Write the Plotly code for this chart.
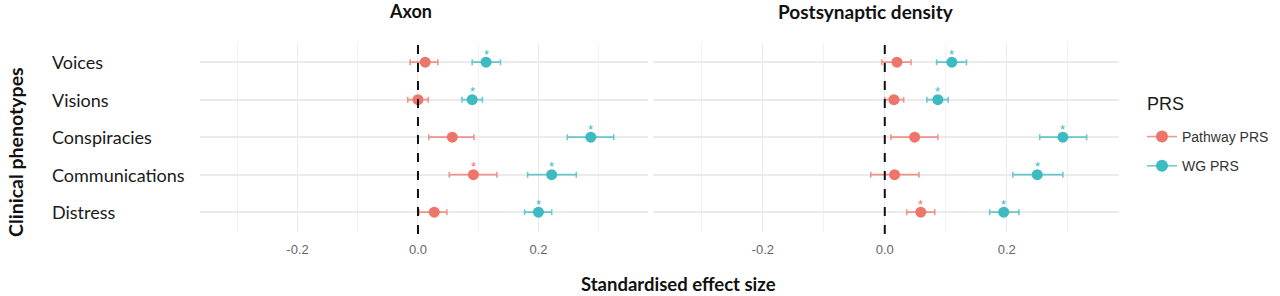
import plotly.graph_objects as go

categories = ["Voices", "Visions", "Conspiracies", "Communications", "Distress"]
panels = ["Axon", "Postsynaptic density"]
series = ["Pathway PRS", "WG PRS"]

axon_path = [0.012, 0.000, 0.057, 0.092, 0.027]
axon_path_lo = [-0.013, -0.017, 0.018, 0.052, 0.002]
axon_path_hi = [0.033, 0.017, 0.093, 0.131, 0.048]
axon_path_sig = [False, False, False, True, False]

axon_wg = [0.113, 0.090, 0.287, 0.222, 0.200]
axon_wg_lo = [0.090, 0.073, 0.248, 0.182, 0.177]
axon_wg_hi = [0.137, 0.107, 0.325, 0.263, 0.222]
axon_wg_sig = [True, True, True, True, True]

psd_path = [0.020, 0.015, 0.049, 0.016, 0.059]
psd_path_lo = [-0.005, 0.000, 0.010, -0.023, 0.036]
psd_path_hi = [0.043, 0.031, 0.087, 0.056, 0.082]
psd_path_sig = [False, False, False, False, True]

psd_wg = [0.110, 0.087, 0.292, 0.250, 0.195]
psd_wg_lo = [0.085, 0.069, 0.254, 0.210, 0.172]
psd_wg_hi = [0.134, 0.104, 0.331, 0.292, 0.220]
psd_wg_sig = [True, True, True, True, True]

colors = {"Pathway PRS": "#EE756B", "WG PRS": "#3DBAC2"}
err_colors = {"Pathway PRS": "rgba(238,117,107,0.75)", "WG PRS": "rgba(61,186,194,0.75)"}

data = {
    ("Axon", "Pathway PRS"): (axon_path, axon_path_lo, axon_path_hi, axon_path_sig),
    ("Axon", "WG PRS"): (axon_wg, axon_wg_lo, axon_wg_hi, axon_wg_sig),
    ("Postsynaptic density", "Pathway PRS"): (psd_path, psd_path_lo, psd_path_hi, psd_path_sig),
    ("Postsynaptic density", "WG PRS"): (psd_wg, psd_wg_lo, psd_wg_hi, psd_wg_sig),
}

W, H = 1280, 296
ML, MR, MT, MB = 200, 161, 43, 64
PW = W - ML - MR
PH = H - MT - MB
TXT = "Lato"


def py(pix):
    return (H - MB - pix) / PH


def px(pix):
    return (pix - ML) / PW


fig = go.Figure()
axes = {"Axon": ("x", "y"), "Postsynaptic density": ("x2", "y")}

for p in panels:
    xa, ya = axes[p]
    for s in series:
        v, lo, hi, sig = data[(p, s)]
        fig.add_trace(go.Scatter(
            x=v, y=categories, xaxis=xa, yaxis=ya,
            mode="markers",
            marker=dict(size=11, color=colors[s]),
            error_x=dict(type="data", symmetric=False,
                         array=[h - a for h, a in zip(hi, v)],
                         arrayminus=[a - l for a, l in zip(v, lo)],
                         color=err_colors[s], thickness=1.6, width=3),
            showlegend=False, cliponaxis=False, hoverinfo="skip",
        ))
        for xv, cat, g in zip(v, categories, sig):
            if g:
                fig.add_annotation(text="*", x=xv, y=cat, xref=xa, yref=ya,
                                   showarrow=False, yshift=8, xanchor="center", yanchor="middle",
                                   font=dict(family="Liberation Sans", size=13, color=colors[s]))

for s in series:
    fig.add_trace(go.Scatter(
        x=[None], y=[None], mode="lines+markers", name=s, legendgroup=s,
        marker=dict(size=12, color=colors[s]),
        line=dict(color=err_colors[s], width=1.6),
        showlegend=True,
    ))

d1 = (648 - ML) / PW
d2 = (653 - ML) / PW
grid = "#EBEBEB"
common_x = dict(
    showgrid=True, gridcolor=grid, gridwidth=1.2, zeroline=False,
    tickvals=[-0.2, 0.0, 0.2], ticktext=["-0.2", "0.0", "0.2"],
    minor=dict(tickvals=[-0.3, -0.1, 0.1, 0.3], showgrid=True, gridcolor="#F2F2F2", gridwidth=1),
    tickfont=dict(family="Liberation Sans", size=13, color="#666666"),
    ticks="", showline=False, ticklabelstandoff=8,
)
fig.update_layout(
    xaxis=dict(domain=[0, d1], range=[-0.362, 0.382], **common_x),
    xaxis2=dict(domain=[d2, 1], range=[-0.380, 0.384], **common_x),
    yaxis=dict(categoryorder="array", categoryarray=categories[::-1],
               range=[-0.53, 4.51], showgrid=True, gridcolor=grid, gridwidth=1.6,
               showticklabels=False, ticks="", zeroline=False, showline=False),
)

for p in panels:
    xa, _ = axes[p]
    fig.add_shape(type="line", xref=xa, yref="paper", x0=0, x1=0, y0=-0.01, y1=1.0,
                  line=dict(color="#111111", width=2, dash="dash"))

for c in categories:
    fig.add_annotation(text=c, x=px(50), xref="paper", y=c, yref="y",
                       xanchor="left", yanchor="middle", showarrow=False,
                       font=dict(family=TXT, size=18, color="#1A1A1A"))

fig.add_annotation(text="<b>Axon</b>", x=px(410), y=py(11),
                   xref="paper", yref="paper", xanchor="center", yanchor="middle",
                   showarrow=False, font=dict(family=TXT, size=18, color="#111111"))
fig.add_annotation(text="<b>Postsynaptic density</b>", x=px(866), y=py(11),
                   xref="paper", yref="paper", xanchor="center", yanchor="middle",
                   showarrow=False, font=dict(family=TXT, size=19, color="#111111"))
fig.add_annotation(text="<b>Standardised effect size</b>", x=px(678), y=py(284),
                   xref="paper", yref="paper", xanchor="center", yanchor="middle",
                   showarrow=False, font=dict(family=TXT, size=18.5, color="#111111"))
fig.add_annotation(text="<b>Clinical phenotypes</b>", x=px(15), y=py(152), textangle=-90,
                   xref="paper", yref="paper", xanchor="center", yanchor="middle",
                   showarrow=False, font=dict(family=TXT, size=19.5, color="#111111"))
fig.add_annotation(text="PRS", x=px(1145), y=py(104),
                   xref="paper", yref="paper", xanchor="left", yanchor="middle",
                   showarrow=False, font=dict(family="Liberation Sans", size=18, color="#1A1A1A"))

fig.update_layout(
    width=W, height=H,
    margin=dict(l=ML, r=MR, t=MT, b=MB, pad=0, autoexpand=False),
    paper_bgcolor="white", plot_bgcolor="white",
    legend=dict(xref="container", yref="container",
                x=1142 / W, xanchor="left", y=1 - 121 / H, yanchor="top",
                font=dict(family="Liberation Sans", size=14, color="#333333"),
                itemwidth=30, tracegroupgap=8, bgcolor="rgba(0,0,0,0)"),
)

post = "document.body.style.margin='0';document.body.style.overflow='hidden';"
fig.write_html("out.html", config={"displayModeBar": False}, post_script=post)
